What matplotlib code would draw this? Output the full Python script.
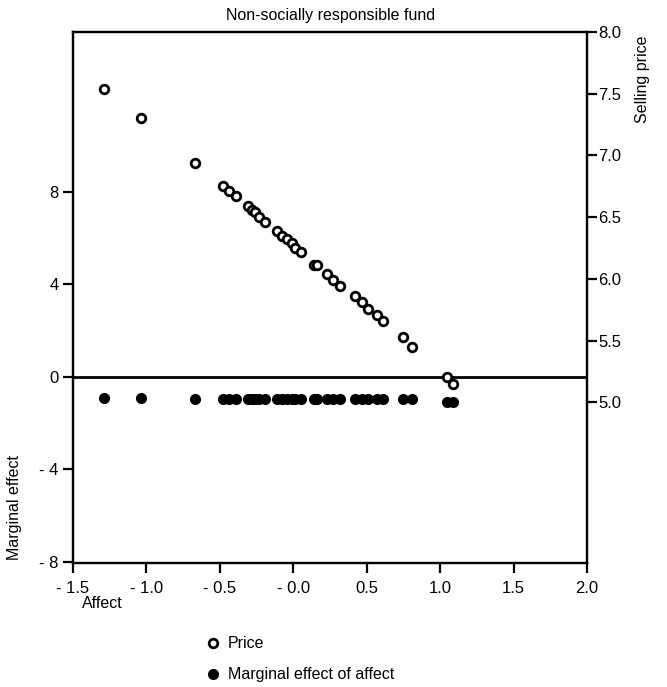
import numpy as np
import matplotlib
matplotlib.use("Agg")
import matplotlib.pyplot as plt
from matplotlib.ticker import FuncFormatter

plt.rcParams['font.family'] = ['Liberation Sans', 'DejaVu Sans']

# Affect values of the respondents (x axis)
affect = [-1.29, -1.04, -0.67, -0.48, -0.44, -0.39, -0.31, -0.28, -0.26,
          -0.23, -0.19, -0.11, -0.08, -0.04, -0.01, 0.01, 0.05, 0.14, 0.16,
          0.23, 0.27, 0.32, 0.42, 0.47, 0.51, 0.57, 0.61, 0.75, 0.81,
          1.05, 1.09]

# Selling price (right axis)
price = [7.54, 7.30, 6.94, 6.75, 6.71, 6.67, 6.59, 6.56, 6.54,
         6.50, 6.46, 6.39, 6.35, 6.32, 6.29, 6.25, 6.22, 6.11, 6.11,
         6.04, 5.99, 5.94, 5.86, 5.81, 5.76, 5.71, 5.66, 5.53, 5.45,
         5.21, 5.15]

# Marginal effect of affect (left axis)
marginal = [-0.92, -0.92, -0.96, -0.96, -0.96, -0.96, -0.96, -0.96, -0.96,
            -0.96, -0.96, -0.96, -0.96, -0.96, -0.96, -0.96, -0.96, -0.96, -0.96,
            -0.96, -0.96, -0.96, -0.96, -0.96, -0.96, -0.96, -0.96, -0.96, -0.96,
            -1.08, -1.08]

x_ticks = [-1.5, -1.0, -0.5, 0.0, 0.5, 1.0, 1.5, 2.0]
left_ticks = [-8, -4, 0, 4, 8]
right_ticks = [5.0, 5.5, 6.0, 6.5, 7.0, 7.5, 8.0]


def dash_fmt(v, pos, fmt):
    # the original prints negatives (and zero on x) as "- 1.5"
    if v < 0 or (fmt == "{:.1f}" and v == 0):
        return "- " + fmt.format(abs(v))
    return fmt.format(v)


fig = plt.figure(figsize=(6.67, 6.87), dpi=100)
ax = fig.add_axes([0.1094, 0.1805, 0.7706, 0.7729])
ax2 = ax.twinx()

ax.set_xlim(-1.5, 2.0)
ax.set_ylim(-8.05, 14.9)
ax2.set_ylim(3.70, 8.00)

ax.axhline(0, color='black', lw=2.0, zorder=1)

m_line, = ax.plot(affect, marginal, 'o', color='black', ms=7, ls='none',
                  label='Marginal effect of affect', zorder=3)
p_line, = ax2.plot(affect, price, 'o', mfc='white', mec='black', mew=2.0,
                   ms=6.2, ls='none', label='Price', zorder=3)

ax.set_xticks(x_ticks)
ax.set_yticks(left_ticks)
ax2.set_yticks(right_ticks)
ax.xaxis.set_major_formatter(FuncFormatter(lambda v, p: dash_fmt(v, p, "{:.1f}")))
ax.yaxis.set_major_formatter(FuncFormatter(lambda v, p: dash_fmt(v, p, "{:.0f}")))
ax2.yaxis.set_major_formatter(FuncFormatter(lambda v, p: "{:.1f}".format(v)))

for a in (ax, ax2):
    for s in a.spines.values():
        s.set_linewidth(1.6)
    a.tick_params(width=1.6, length=7, labelsize=12, direction='out')
ax.tick_params(axis='x', pad=6)
ax2.tick_params(axis='y', pad=1)

fig.text(0.495, 0.978, "Non-socially responsible fund", ha='center', va='center',
         fontsize=11.5)
fig.text(0.022, 0.185, "Marginal effect", rotation=90, ha='center', va='bottom',
         fontsize=11.5)
fig.text(0.963, 0.948, "Selling price", rotation=90, ha='center', va='top',
         fontsize=11.5)
fig.text(0.123, 0.122, "Affect", ha='left', va='center', fontsize=11.5)

fig.legend(handles=[p_line, m_line], loc='upper left',
           bbox_to_anchor=(0.307, 0.074), frameon=False, fontsize=11.5,
           handletextpad=0.45, handlelength=1.0, labelspacing=1.0,
           borderaxespad=0, borderpad=0)

fig.savefig("out.png", dpi=100)
